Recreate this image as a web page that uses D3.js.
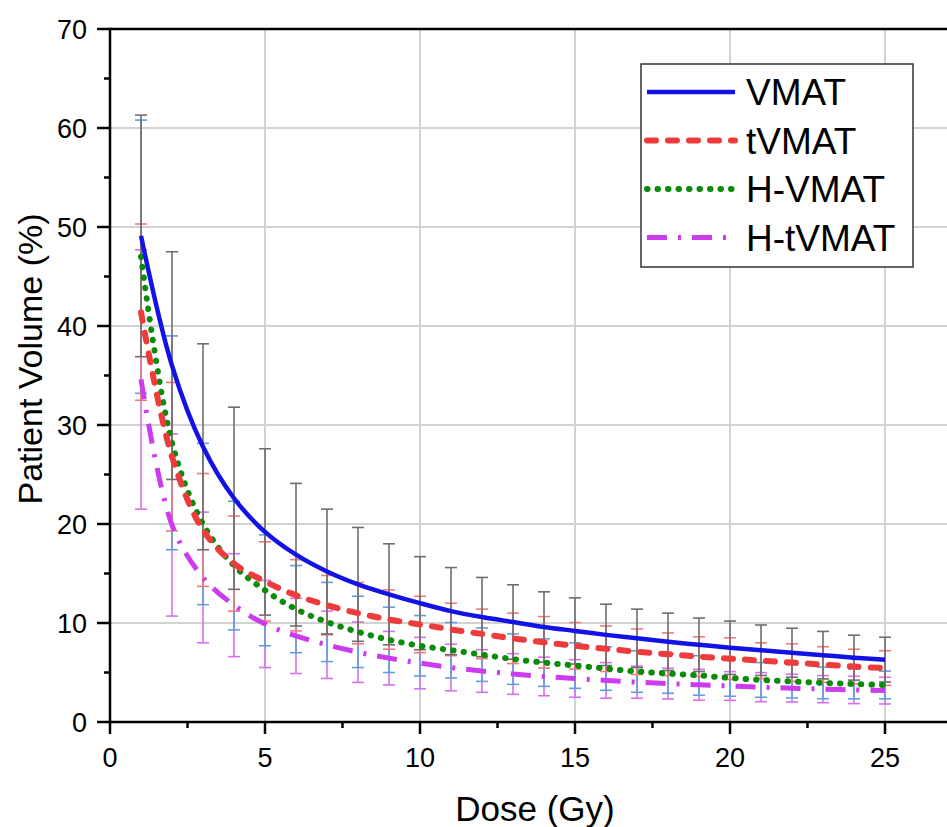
<!DOCTYPE html>
<html>
<head>
<meta charset="utf-8">
<script src="https://cdn.jsdelivr.net/npm/d3@7/dist/d3.min.js"></script>
<style>
  html, body { margin: 0; padding: 0; background: #fff; }
  svg { display: block; font-family: 'Liberation Sans', Arial, sans-serif; }
</style>
</head>
<body>
<svg id="chart" width="947" height="827"></svg>
<script>
  /* ---- Data ---- */
  const dose = [1,2,3,4,5,6,7,8,9,10,11,12,13,14,15,16,17,18,19,20,21,22,23,24,25];

  const vmat     = [49.1,36.0,27.8,22.6,19.2,16.9,15.2,13.9,12.9,12.0,11.2,10.6,10.1,9.6,9.2,8.8,8.45,8.1,7.8,7.5,7.25,7.0,6.75,6.5,6.3];
  const vmatSd   = [12.2,11.5,10.4,9.2,8.4,7.2,6.3,5.75,5.1,4.7,4.4,4.0,3.76,3.55,3.34,3.1,2.95,2.9,2.7,2.7,2.55,2.47,2.4,2.27,2.26];

  const tvmat    = [41.4,26.8,19.4,16.0,14.2,12.8,11.8,11.0,10.35,9.85,9.35,8.9,8.45,8.05,7.7,7.4,7.1,6.85,6.6,6.4,6.2,6.0,5.8,5.6,5.45];
  const tvmatSd  = [8.9,7.5,5.7,4.8,4.0,3.6,3.0,3.1,3.0,2.85,2.65,2.5,2.55,2.6,2.35,2.3,2.3,2.15,2.0,2.1,1.8,1.9,1.8,1.75,1.75];

  const hvmat    = [47.0,28.2,20.0,15.8,13.3,11.4,10.1,9.1,8.3,7.7,7.25,6.8,6.35,6.0,5.7,5.4,5.1,4.9,4.7,4.45,4.25,4.1,3.95,3.84,3.74];
  const hvmatSd  = [13.8,10.8,8.15,6.5,5.6,4.4,4.0,3.6,3.3,3.05,2.8,2.7,2.55,2.4,2.3,2.2,2.1,2.0,2.0,1.85,1.75,1.67,1.6,1.5,1.4];

  const htvmat   = [34.6,19.9,14.6,11.8,9.9,8.7,7.8,7.05,6.45,5.95,5.5,5.15,4.85,4.6,4.4,4.2,4.02,3.88,3.76,3.64,3.52,3.42,3.32,3.24,3.17];
  const htvmatSd = [13.1,9.2,6.6,5.2,4.4,3.8,3.4,3.05,2.7,2.6,2.35,2.15,2.05,1.95,1.9,1.8,1.62,1.55,1.56,1.45,1.47,1.4,1.37,1.38,1.35];

  const seriesNames = ['VMAT', 'tVMAT', 'H-VMAT', 'H-tVMAT'];
  const xTicks = [0, 5, 10, 15, 20, 25];
  const yTicks = [0, 10, 20, 30, 40, 50, 60, 70];

  /* ---- Styles per series ---- */
  const series = [
    { name: seriesNames[0], mean: vmat,   sd: vmatSd,   color: '#1212e6', err: '#6e6e6e', width: 4.5, dash: null,          cap: 'butt'  },
    { name: seriesNames[1], mean: tvmat,  sd: tvmatSd,  color: '#ee3b3b', err: '#f07a7a', width: 6,   dash: '9 12',        cap: 'round' },
    { name: seriesNames[2], mean: hvmat,  sd: hvmatSd,  color: '#0a8c0a', err: '#5f9fdc', width: 6,   dash: '0.5 10',      cap: 'round' },
    { name: seriesNames[3], mean: htvmat, sd: htvmatSd, color: '#cc3cee', err: '#d670ee', width: 5,   dash: '20 11 3 11',  cap: 'butt'  }
  ];

  const svg = d3.select('#chart');
  const M = { left: 110, top: 29, bottom: 722, right: 947 };

  const x = d3.scaleLinear().domain([0, 27.0]).range([M.left, M.right]);
  const y = d3.scaleLinear().domain([0, 70]).range([M.bottom, M.top]);

  /* ---- Grid ---- */
  const grid = svg.append('g');
  grid.selectAll('.vg').data(xTicks.filter(d => d > 0)).join('line')
    .attr('x1', d => x(d)).attr('x2', d => x(d))
    .attr('y1', M.top).attr('y2', M.bottom)
    .attr('stroke', '#d2d2d2').attr('stroke-width', 2);
  grid.selectAll('.hg').data(yTicks.filter(d => d > 0 && d < 70)).join('line')
    .attr('x1', M.left).attr('x2', M.right)
    .attr('y1', d => y(d)).attr('y2', d => y(d))
    .attr('stroke', '#d2d2d2').attr('stroke-width', 2);

  /* ---- Error bars (behind the curves) ---- */
  const capW = 6;
  series.slice().reverse().forEach(s => {
    const g = svg.append('g')
      .attr('stroke', s.err).attr('stroke-width', 1.6).attr('fill', 'none');
    dose.forEach((d, i) => {
      const hi = y(s.mean[i] + s.sd[i]);
      const lo = y(s.mean[i] - s.sd[i]);
      const cx = x(d);
      g.append('line').attr('x1', cx).attr('x2', cx).attr('y1', hi).attr('y2', lo);
      g.append('line').attr('x1', cx - capW).attr('x2', cx + capW).attr('y1', hi).attr('y2', hi);
      g.append('line').attr('x1', cx - capW).attr('x2', cx + capW).attr('y1', lo).attr('y2', lo);
    });
  });

  /* ---- Curves ---- */
  const line = d3.line().curve(d3.curveCatmullRom.alpha(0.5));
  series.slice().reverse().forEach(s => {
    svg.append('path')
      .attr('d', line(dose.map((d, i) => [x(d), y(s.mean[i])])))
      .attr('fill', 'none')
      .attr('stroke', s.color)
      .attr('stroke-width', s.width)
      .attr('stroke-linecap', s.cap)
      .attr('stroke-dasharray', s.dash);
  });

  /* ---- Axes ---- */
  const axisG = svg.append('g').attr('stroke', '#000').attr('stroke-width', 2.5);
  axisG.append('line').attr('x1', M.left).attr('x2', M.right).attr('y1', M.bottom).attr('y2', M.bottom);
  axisG.append('line').attr('x1', M.left).attr('x2', M.left).attr('y1', M.top - 1.2).attr('y2', M.bottom + 1.2);
  axisG.append('line').attr('x1', M.left).attr('x2', M.right).attr('y1', M.top).attr('y2', M.top);

  // x ticks (major + minor)
  axisG.selectAll('.xt').data(d3.range(0, 27, 2.5)).join('line')
    .attr('x1', d => x(d)).attr('x2', d => x(d))
    .attr('y1', M.bottom).attr('y2', d => M.bottom + (d % 5 === 0 ? 12 : 6));
  // y ticks (major + minor)
  axisG.selectAll('.yt').data(d3.range(0, 71, 5)).join('line')
    .attr('y1', d => y(d)).attr('y2', d => y(d))
    .attr('x1', M.left).attr('x2', d => M.left - (d % 10 === 0 ? 13 : 6));

  svg.selectAll('.xl').data(xTicks).join('text')
    .attr('x', d => x(d)).attr('y', 767)
    .attr('text-anchor', 'middle').attr('font-size', 27).attr('fill', '#000')
    .text(d => d);
  svg.selectAll('.yl').data(yTicks).join('text')
    .attr('x', 87).attr('y', d => y(d) + 9.5)
    .attr('text-anchor', 'end').attr('font-size', 27).attr('fill', '#000')
    .text(d => d);

  svg.append('text')
    .attr('x', 535).attr('y', 821)
    .attr('text-anchor', 'middle').attr('font-size', 35).attr('fill', '#000')
    .text('Dose (Gy)');
  svg.append('text')
    .attr('transform', 'translate(42,359) rotate(-90)')
    .attr('text-anchor', 'middle').attr('font-size', 34).attr('fill', '#000')
    .text('Patient Volume (%)');

  /* ---- Legend ---- */
  const lg = svg.append('g');
  lg.append('rect')
    .attr('x', 641).attr('y', 64).attr('width', 272).attr('height', 203)
    .attr('fill', '#fff').attr('stroke', '#333').attr('stroke-width', 1.5);
  series.forEach((s, i) => {
    const ly = 92 + i * 48.5;
    lg.append('line')
      .attr('x1', 647).attr('x2', 735).attr('y1', ly).attr('y2', ly)
      .attr('stroke', s.color).attr('stroke-width', s.width)
      .attr('stroke-linecap', s.cap).attr('stroke-dasharray', s.dash);
    lg.append('text')
      .attr('x', 746).attr('y', ly + 13)
      .attr('font-size', 37).attr('fill', '#000')
      .text(s.name);
  });
</script>
</body>
</html>
